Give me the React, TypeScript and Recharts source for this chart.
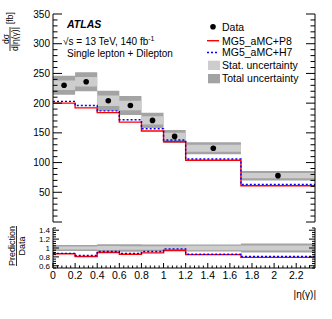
import React from "react";
import { ComposedChart, Line, Area, Scatter, XAxis, YAxis } from "recharts";

// ---- data ----
const binEdges = [0, 0.2, 0.4, 0.6, 0.8, 1.0, 1.2, 1.7, 2.37];
const binCenters = [0.1, 0.3, 0.5, 0.7, 0.9, 1.1, 1.45, 2.035];
const dataValues = [230, 236, 204, 196, 171, 144, 124, 78];
const totalUnc = [16, 16, 17, 16, 13, 11, 10, 8];
const statUnc = [8, 8, 9, 8, 7, 6, 6, 4.5];
const p8Values = [200, 192, 184, 168, 153, 135, 104, 61];
const h7Values = [203, 196, 187, 172, 157, 138, 106, 63];
const ratioP8 = [0.87, 0.81, 0.9, 0.86, 0.89, 0.95, 0.85, 0.79];
const ratioH7 = [0.88, 0.83, 0.92, 0.88, 0.92, 0.98, 0.86, 0.81];
const ratioTotal = [0.07, 0.068, 0.083, 0.082, 0.076, 0.076, 0.08, 0.1];
const ratioStat = [0.035, 0.034, 0.044, 0.041, 0.041, 0.042, 0.048, 0.058];

const xMajorLabels = [0, 0.2, 0.4, 0.6, 0.8, 1, 1.2, 1.4, 1.6, 1.8, 2, 2.2];
const yMainLabels = [50, 100, 150, 200, 250, 300, 350];
const yRatioLabels = [0.6, 0.8, 1, 1.2, 1.4];

const X_DOMAIN: [number, number] = [0, 2.37];
const Y_DOMAIN: [number, number] = [0, 350];
const R_DOMAIN: [number, number] = [0.55, 1.45];

// tick positions (major + minor)
const xTicks = Array.from({ length: 60 }, (_, i) => Math.round(i * 4) / 100);
const yMainTicks = Array.from({ length: 36 }, (_, i) => i * 10);
const yRatioTicks = Array.from({ length: 19 }, (_, i) => Math.round((0.55 + i * 0.05) * 100) / 100);

const nBins = dataValues.length;
const mainRows = binEdges.map((x, i) => {
  const k = Math.min(i, nBins - 1);
  return {
    x,
    p8: p8Values[k],
    h7: h7Values[k],
    tot: [dataValues[k] - totalUnc[k], dataValues[k] + totalUnc[k]],
    stat: [dataValues[k] - statUnc[k], dataValues[k] + statUnc[k]],
  };
});
const ratioRows = binEdges.map((x, i) => {
  const k = Math.min(i, nBins - 1);
  return {
    x,
    r8: ratioP8[k],
    rh7: ratioH7[k],
    tot: [1 - ratioTotal[k], 1 + ratioTotal[k]],
    stat: [1 - ratioStat[k], 1 + ratioStat[k]],
  };
});
const pointRows = binCenters.map((x, i) => ({ x, y: dataValues[i] }));

const isIn = (arr: number[], v: number) => arr.some((a) => Math.abs(a - v) < 1e-6);
const fmt = (v: number) => String(Math.round(v * 10) / 10);

const FONT = "'Liberation Sans', Arial, Helvetica, sans-serif";
const TOTAL_COLOR = "#a3a3a3";
const STAT_COLOR = "#cdcdcd";

// ---- tick renderers ----
const makeXTick = (dir: 1 | -1, majLen: number, minLen: number, labels: boolean) => (props: any) => {
  const { x, y, payload } = props;
  const v = payload.value;
  const major = isIn(xMajorLabels, v);
  const len = major ? majLen : minLen;
  return (
    <g>
      <line x1={x} x2={x} y1={y} y2={y - dir * len} stroke="#000" strokeWidth={1} />
      {labels && major ? (
        <text x={x} y={y + 10.5} textAnchor="middle" fontSize={10.5} fontFamily={FONT} fill="#000">
          {fmt(v)}
        </text>
      ) : null}
    </g>
  );
};

const makeYTick = (
  dir: 1 | -1,
  majors: number[],
  majLen: number,
  minLen: number,
  labels: number[] | null,
  fontSize: number
) => (props: any) => {
  const { x, y, payload } = props;
  const v = payload.value;
  const major = isIn(majors, v);
  const len = major ? majLen : minLen;
  return (
    <g>
      <line x1={x} x2={x + dir * len} y1={y} y2={y} stroke="#000" strokeWidth={1} />
      {labels && isIn(labels, v) ? (
        <text x={x - 3} y={y + fontSize * 0.36} textAnchor="end" fontSize={fontSize} fontFamily={FONT} fill="#000">
          {fmt(v)}
        </text>
      ) : null}
    </g>
  );
};

const yMainMajors = [0, 50, 100, 150, 200, 250, 300, 350];

const DataDot = (p: any) => <circle cx={p.cx} cy={p.cy} r={2.8} fill="#000" />;

function MainPanel() {
  return (
    <ComposedChart
      width={332}
      height={226}
      data={mainRows}
      margin={{ top: 14, right: 0, bottom: 4, left: 0 }}
    >
      <XAxis
        dataKey="x"
        type="number"
        domain={X_DOMAIN}
        allowDataOverflow
        ticks={xTicks}
        interval={0}
        height={0}
        tickSize={0}
        tickMargin={0}
        tickLine={false}
        axisLine={{ stroke: "#000" }}
        tick={makeXTick(1, 5, 2.5, false)}
      />
      <XAxis
        xAxisId="top"
        orientation="top"
        dataKey="x"
        type="number"
        domain={X_DOMAIN}
        allowDataOverflow
        ticks={xTicks}
        interval={0}
        height={0}
        tickSize={0}
        tickMargin={0}
        tickLine={false}
        axisLine={{ stroke: "#000" }}
        tick={makeXTick(-1, 5, 2.5, false)}
      />
      <YAxis
        type="number"
        domain={Y_DOMAIN}
        allowDataOverflow
        ticks={yMainTicks}
        interval={0}
        width={53}
        tickSize={0}
        tickMargin={0}
        tickLine={false}
        axisLine={{ stroke: "#000" }}
        tick={makeYTick(1, yMainMajors, 9, 4.5, yMainLabels, 10)}
      />
      <YAxis
        yAxisId="right"
        orientation="right"
        type="number"
        domain={Y_DOMAIN}
        allowDataOverflow
        ticks={yMainTicks}
        interval={0}
        width={17}
        tickSize={0}
        tickMargin={0}
        tickLine={false}
        axisLine={{ stroke: "#000" }}
        tick={makeYTick(-1, yMainMajors, 9, 4.5, null, 10)}
      />
      <Area dataKey="tot" type="stepAfter" stroke="none" fill={TOTAL_COLOR} fillOpacity={1} isAnimationActive={false} />
      <Area dataKey="stat" type="stepAfter" stroke="none" fill={STAT_COLOR} fillOpacity={1} isAnimationActive={false} />
      <Line dataKey="p8" type="stepAfter" stroke="#ff0000" strokeWidth={1.4} dot={false} isAnimationActive={false} />
      <Line
        dataKey="h7"
        type="stepAfter"
        stroke="#0000ff"
        strokeWidth={1.4}
        strokeDasharray="2 2"
        dot={false}
        isAnimationActive={false}
      />
      <Scatter data={pointRows} dataKey="y" shape={DataDot} isAnimationActive={false} />
    </ComposedChart>
  );
}

function RatioPanel() {
  return (
    <ComposedChart
      width={332}
      height={95}
      data={ratioRows}
      margin={{ top: 4, right: 0, bottom: 0, left: 0 }}
    >
      <XAxis
        dataKey="x"
        type="number"
        domain={X_DOMAIN}
        allowDataOverflow
        ticks={xTicks}
        interval={0}
        height={51}
        tickSize={0}
        tickMargin={0}
        tickLine={false}
        axisLine={{ stroke: "#000" }}
        tick={makeXTick(1, 5, 2.5, true)}
      />
      <XAxis
        xAxisId="top"
        orientation="top"
        dataKey="x"
        type="number"
        domain={X_DOMAIN}
        allowDataOverflow
        ticks={xTicks}
        interval={0}
        height={0}
        tickSize={0}
        tickMargin={0}
        tickLine={false}
        axisLine={{ stroke: "#000" }}
        tick={makeXTick(-1, 5, 2.5, false)}
      />
      <YAxis
        type="number"
        domain={R_DOMAIN}
        allowDataOverflow
        ticks={yRatioTicks}
        interval={0}
        width={53}
        tickSize={0}
        tickMargin={0}
        tickLine={false}
        axisLine={{ stroke: "#000" }}
        tick={makeYTick(1, yRatioLabels, 6, 3, yRatioLabels, 8)}
      />
      <YAxis
        yAxisId="right"
        orientation="right"
        type="number"
        domain={R_DOMAIN}
        allowDataOverflow
        ticks={yRatioTicks}
        interval={0}
        width={17}
        tickSize={0}
        tickMargin={0}
        tickLine={false}
        axisLine={{ stroke: "#000" }}
        tick={makeYTick(-1, yRatioLabels, 6, 3, null, 8)}
      />
      <Area dataKey="tot" type="stepAfter" stroke="none" fill={TOTAL_COLOR} fillOpacity={1} isAnimationActive={false} />
      <Area dataKey="stat" type="stepAfter" stroke="none" fill={STAT_COLOR} fillOpacity={1} isAnimationActive={false} />
      <Line dataKey="r8" type="stepAfter" stroke="#ff0000" strokeWidth={1.4} dot={false} isAnimationActive={false} />
      <Line
        dataKey="rh7"
        type="stepAfter"
        stroke="#0000ff"
        strokeWidth={1.4}
        strokeDasharray="2 2"
        dot={false}
        isAnimationActive={false}
      />
    </ComposedChart>
  );
}

function Overlay() {
  const lx = 207;
  const tx = 222;
  const fs = 10.5;
  return (
    <svg
      width={332}
      height={319}
      style={{ position: "absolute", left: 0, top: 0, pointerEvents: "none", fontFamily: FONT }}
    >
      <text x={67} y={27.5} fontSize={10.5} fontWeight="bold" fontStyle="italic" fill="#000">
        ATLAS
      </text>
      <text x={63} y={44.5} fontSize={10} fill="#000">
        √s = 13 TeV, 140 fb<tspan dy={-4} fontSize={7}>-1</tspan>
      </text>
      <text x={67} y={57} fontSize={10} fill="#000">
        Single lepton + Dilepton
      </text>

      {/* legend */}
      <circle cx={213} cy={26.7} r={2.8} fill="#000" />
      <text x={tx} y={30.5} fontSize={fs} fill="#000">Data</text>
      <line x1={lx} x2={lx + 12} y1={40.7} y2={40.7} stroke="#ff0000" strokeWidth={1.4} />
      <text x={tx} y={44.5} fontSize={fs} fill="#000">MG5_aMC+P8</text>
      <line x1={lx} x2={lx + 12} y1={52.5} y2={52.5} stroke="#0000ff" strokeWidth={1.4} strokeDasharray="2 2" />
      <text x={tx} y={56.3} fontSize={fs} fill="#000">MG5_aMC+H7</text>
      <rect x={208} y={60.7} width={12} height={9.3} fill={STAT_COLOR} />
      <text x={tx} y={69} fontSize={fs} fill="#000">Stat. uncertainty</text>
      <rect x={208} y={74} width={12} height={9.3} fill={TOTAL_COLOR} />
      <text x={tx} y={82.2} fontSize={fs} fill="#000">Total uncertainty</text>

      {/* main y title */}
      <text transform="translate(8.5,39) rotate(-90)" textAnchor="middle" fontSize={8.5} fill="#000">
        dσ
      </text>
      <line x1={10} x2={10} y1={27} y2={51} stroke="#000" strokeWidth={0.8} />
      <text transform="translate(17.5,39) rotate(-90)" textAnchor="middle" fontSize={8.5} fill="#000">
        d|η(γ)|
      </text>
      <text transform="translate(13,24) rotate(-90)" textAnchor="start" fontSize={8.5} fill="#000">
        [fb]
      </text>

      {/* ratio y title */}
      <text transform="translate(15,246) rotate(-90)" textAnchor="middle" fontSize={9} fill="#000">
        Prediction
      </text>
      <line x1={16.5} x2={16.5} y1={226} y2={266} stroke="#000" strokeWidth={0.8} />
      <text transform="translate(24.5,246) rotate(-90)" textAnchor="middle" fontSize={9} fill="#000">
        Data
      </text>

      {/* x title */}
      <text x={316} y={298} textAnchor="end" fontSize={10} fill="#000">
        |η(γ)|
      </text>
    </svg>
  );
}

export default function App() {
  return (
    <div
      style={{
        position: "absolute",
        left: 0,
        top: 0,
        width: 332,
        height: 319,
        background: "#fff",
        fontFamily: FONT,
        overflow: "hidden",
      }}
    >
      <div style={{ position: "absolute", left: 0, top: 0 }}>
        <MainPanel />
      </div>
      <div style={{ position: "absolute", left: 0, top: 224 }}>
        <RatioPanel />
      </div>
      <Overlay />
    </div>
  );
}
